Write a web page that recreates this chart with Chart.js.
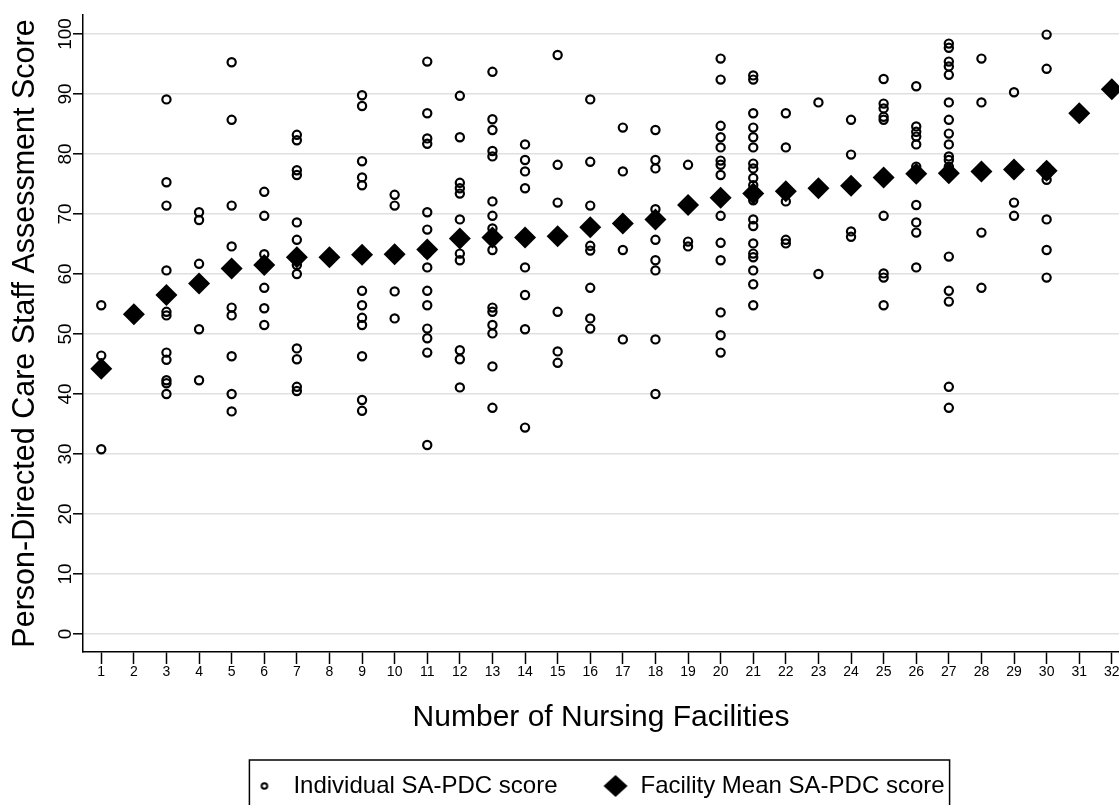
<!DOCTYPE html>
<html>
<head>
<meta charset="utf-8">
<title>SA-PDC scores by facility</title>
<script src="https://cdn.jsdelivr.net/npm/chart.js@4.4.1/dist/chart.umd.min.js"></script>
<style>
    html, body { margin: 0; padding: 0; background: #fff; }
    #wrap { width: 1119px; height: 805px; position: relative; }
</style>
</head>
<body>
<div id="wrap"><canvas id="pdc_chart"></canvas></div>
<script>
var facilities = [1, 2, 3, 4, 5, 6, 7, 8, 9, 10, 11, 12, 13, 14, 15, 16,
                  17, 18, 19, 20, 21, 22, 23, 24, 25, 26, 27, 28, 29, 30, 31, 32];

// individual staff scores per facility
var individualScores = [
    [54.8, 46.4, 30.8],
    [53.3],
    [89.1, 75.3, 71.4, 60.6, 53.7, 53.1, 46.9, 45.7, 42.3, 41.8, 40.0],
    [70.3, 69.0, 61.7, 50.8, 42.3],
    [95.3, 85.7, 71.4, 64.6, 54.4, 53.1, 46.3, 40.0, 37.1],
    [73.7, 69.7, 63.3, 57.7, 54.3, 51.5],
    [83.2, 82.3, 77.3, 76.5, 68.6, 65.7, 61.5, 60.0, 47.6, 45.8, 41.2, 40.5],
    [62.8],
    [89.8, 88.0, 78.8, 76.1, 74.8, 57.2, 54.8, 52.7, 51.5, 46.3, 39.0, 37.2],
    [73.2, 71.4, 57.1, 52.6],
    [95.4, 86.8, 82.6, 81.7, 70.3, 67.4, 63.5, 61.1, 57.2, 54.8, 50.9, 49.3, 46.9, 31.5],
    [89.7, 82.8, 75.2, 74.3, 73.4, 69.1, 63.4, 62.3, 47.3, 45.8, 41.1],
    [93.7, 85.8, 84.0, 80.5, 79.6, 72.1, 69.7, 67.6, 66.5, 64.0, 54.4, 53.7, 51.5, 50.1, 44.6, 37.7],
    [81.6, 79.0, 77.1, 74.3, 66.0, 61.1, 56.5, 50.8, 34.4],
    [96.5, 78.2, 71.9, 53.7, 47.1, 45.2],
    [89.1, 78.7, 71.4, 64.7, 63.9, 57.7, 52.6, 50.9],
    [84.4, 77.1, 64.0, 49.1],
    [84.0, 79.0, 77.6, 70.8, 65.7, 62.3, 60.6, 49.1, 40.0],
    [78.2, 65.4, 64.6],
    [95.9, 92.4, 84.7, 82.8, 81.1, 78.9, 78.2, 76.5, 69.7, 65.2, 62.3, 53.6, 49.8, 46.9],
    [93.1, 92.4, 86.8, 84.4, 82.8, 81.1, 78.4, 77.6, 76.0, 74.8, 72.3, 69.1, 68.0, 65.1, 63.4, 62.8, 60.6, 58.3, 54.8],
    [86.8, 81.1, 72.1, 65.7, 65.1],
    [88.6, 60.0],
    [85.7, 79.9, 67.1, 66.2],
    [92.5, 88.4, 87.6, 86.2, 85.7, 69.7, 60.1, 59.4, 54.8],
    [91.3, 84.6, 83.7, 82.9, 81.6, 77.9, 71.5, 68.6, 66.9, 61.1],
    [98.4, 97.7, 95.4, 94.6, 93.2, 88.6, 85.7, 83.4, 81.6, 79.6, 79.0, 77.9, 62.9, 57.2, 55.4, 41.2, 37.7],
    [95.9, 88.6, 66.9, 57.7],
    [90.3, 71.9, 69.7],
    [99.9, 94.2, 77.8, 76.5, 75.7, 69.1, 64.0, 59.4],
    [86.8],
    [90.8]
];

var facilityMeans = [44.2, 53.3, 56.5, 58.4, 60.9, 61.5, 62.8, 62.8, 63.2, 63.3, 64.1, 65.9,
                     66.1, 66.1, 66.3, 67.8, 68.4, 69.1, 71.5, 72.7, 73.4, 73.8, 74.3, 74.7,
                     76.1, 76.7, 76.8, 77.1, 77.4, 77.2, 86.8, 90.8];

var seriesNames = ["Individual SA-PDC score", "Facility Mean SA-PDC score"];
var xTicks = facilities;
var yTicks = [0, 10, 20, 30, 40, 50, 60, 70, 80, 90, 100];

var individualPoints = [];
facilities.forEach(function(f, i) {
    individualScores[i].forEach(function(v) {
        individualPoints.push({x: f, y: v});
    });
});
var meanPoints = facilities.map(function(f, i) {
    return {x: f, y: facilityMeans[i]};
});

// little canvases for the legend keys (circle is small, diamond is big)
function legendMark(kind, shift) {
    var c = document.createElement('canvas');
    c.width = 90; c.height = 30;
    var g = c.getContext('2d');
    var cx = 45 + shift, cy = 15;
    g.fillStyle = '#000'; g.strokeStyle = '#000';
    if (kind === 'circle') {
        g.lineWidth = 2;
        g.beginPath(); g.arc(cx, cy, 2.8, 0, Math.PI * 2); g.stroke();
    } else {
        g.beginPath();
        g.moveTo(cx - 12, cy); g.lineTo(cx, cy - 11);
        g.lineTo(cx + 12, cy); g.lineTo(cx, cy + 11);
        g.closePath(); g.fill();
    }
    return c;
}
var legendMarks = [legendMark('circle', -5), legendMark('diamond', -1)];

// frame round the legend, like the original
var legendFrame = {
    id: 'legendFrame',
    afterDraw: function(chart) {
        var boxes = chart.legend && chart.legend.legendHitBoxes;
        if (!boxes || !boxes.length) return;
        var first = boxes[0], last = boxes[boxes.length - 1];
        var left = first.left - 8;
        var right = last.left + last.width + 5;
        var top = first.top - 14;
        var ctx = chart.ctx;
        ctx.save();
        ctx.strokeStyle = '#000';
        ctx.lineWidth = 1.5;
        ctx.strokeRect(left, top, right - left, 80);
        ctx.restore();
    }
};

Chart.defaults.font.family = '"Liberation Sans", Arial, sans-serif';
Chart.defaults.color = '#000';

new Chart("pdc_chart", {
    type: "scatter",
    data: {
        datasets: [{
            label: seriesNames[0],
            data: individualPoints,
            pointStyle: 'circle',
            pointRadius: 4.1,
            pointHoverRadius: 4.1,
            borderWidth: 2.2,
            borderColor: '#000',
            backgroundColor: 'rgba(0,0,0,0)',
            order: 2,
            clip: false
        }, {
            label: seriesNames[1],
            data: meanPoints,
            pointStyle: 'rectRot',
            pointRadius: 11,
            pointHoverRadius: 11,
            borderWidth: 0,
            borderColor: '#000',
            backgroundColor: '#000',
            order: 1,
            clip: false
        }]
    },
    options: {
        responsive: true,
        maintainAspectRatio: false,
        animation: false,
        layout: { autoPadding: false, padding: { top: 15, left: 0, right: 0, bottom: -3 } },
        scales: {
            x: {
                type: 'linear',
                min: 0.44,
                max: 32.22,
                afterBuildTicks: function(s) { s.ticks = xTicks.map(function(v) { return {value: v}; }); },
                afterFit: function(s) { s.height = 75; s.paddingLeft = 0; s.paddingRight = 0; },
                grid: { drawOnChartArea: false, drawTicks: true, tickLength: 12, tickColor: '#000', tickWidth: 1.5 },
                border: { color: '#000', width: 1.5 },
                ticks: { font: { size: 14 }, padding: 0, maxRotation: 0, autoSkip: false },
                title: {
                    display: true,
                    text: 'Number of Nursing Facilities',
                    font: { size: 30 },
                    padding: { top: 0, bottom: -9 }
                }
            },
            y: {
                min: -3,
                max: 103.17,
                afterBuildTicks: function(s) { s.ticks = yTicks.map(function(v) { return {value: v}; }); },
                afterFit: function(s) { s.width = 83; s.paddingTop = 0; s.paddingBottom = 0; },
                grid: { color: '#e0e0e0', lineWidth: 1.6, tickColor: '#000', tickLength: 10, tickWidth: 1.5 },
                border: { color: '#000', width: 1.5 },
                ticks: { font: { size: 19 }, minRotation: 90, maxRotation: 90, crossAlign: 'center', padding: -9 },
                title: {
                    display: true,
                    text: 'Person-Directed Care Staff Assessment Score',
                    font: { size: 30.5 },
                    padding: { top: 7, bottom: 0 }
                }
            }
        },
        plugins: {
            tooltip: { enabled: false },
            legend: {
                position: 'bottom',
                fullSize: false,
                labels: {
                    usePointStyle: true,
                    pointStyleWidth: 24,
                    padding: 47,
                    font: { size: 24 },
                    generateLabels: function(chart) {
                        return chart.data.datasets.map(function(ds, i) {
                            return { text: ds.label, pointStyle: legendMarks[i], datasetIndex: i,
                                     hidden: false, lineWidth: 0, fillStyle: '#000', strokeStyle: '#000' };
                        });
                    }
                }
            }
        }
    },
    plugins: [legendFrame]
});
</script>
</body>
</html>
